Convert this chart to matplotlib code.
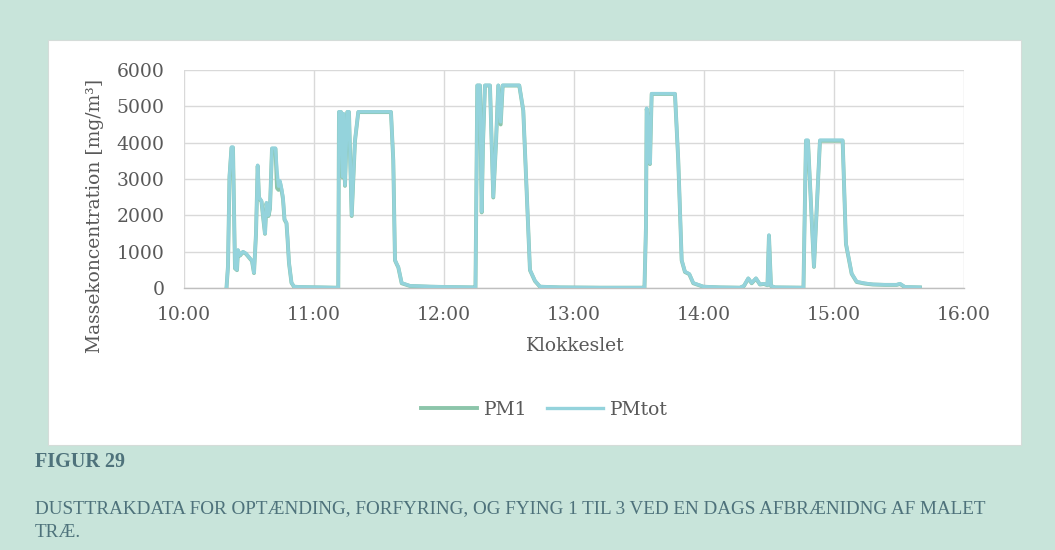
import matplotlib
matplotlib.use("Agg")
import matplotlib.pyplot as plt
from matplotlib.patches import Rectangle

# Time of day in decimal hours
klokkeslet = [
    10.3269, 10.3385, 10.35, 10.3654, 10.3769, 10.3923, 10.4077, 10.4154, 10.4308, 10.4538,
    10.4769, 10.5, 10.5231, 10.5385, 10.5538, 10.5669, 10.5769, 10.5962, 10.6077, 10.6231,
    10.6346, 10.65, 10.6615, 10.6769, 10.7038, 10.7154, 10.7269, 10.7385, 10.75, 10.7615,
    10.7731, 10.7885, 10.7962, 10.8077, 10.8269, 10.8462, 10.8923, 11.0462, 11.1615,
    11.1869, 11.1923, 11.2077, 11.2208, 11.2269, 11.2385, 11.2562, 11.2692, 11.29, 11.3154,
    11.3408, 11.5923, 11.61, 11.6231, 11.6385, 11.6485, 11.6746, 11.7385, 11.8923, 12.0462,
    12.2254, 12.2423, 12.25, 12.2562, 12.2769, 12.29, 12.30, 12.3154, 12.3538, 12.3792,
    12.40, 12.4177, 12.4362, 12.4515, 12.5792, 12.61, 12.6615, 12.70, 12.7385, 12.8923,
    13.20, 13.5385, 13.5423, 13.5538, 13.5592, 13.5692, 13.5846, 13.5977, 13.7769, 13.8023,
    13.8285, 13.8538, 13.8869, 13.9177, 13.9946, 14.1231, 14.2769, 14.3077, 14.3408, 14.3669,
    14.40, 14.4308, 14.4615, 14.4885, 14.50, 14.5154, 14.5462, 14.7654, 14.7846, 14.80,
    14.8462, 14.8923, 15.0669, 15.0923, 15.1362, 15.1746, 15.2385, 15.30, 15.3923, 15.4823,
    15.5077, 15.5462, 15.6615,
]

# Mass concentration [mg/m3]
pm_tot = [
    0, 600, 3100, 3880, 3880, 550, 500, 1050, 900, 1000,
    950, 850, 750, 420, 1500, 3380, 2500, 2400, 2000, 1500,
    2350, 2000, 2200, 3850, 3850, 3250, 2800, 2950, 2750, 2500,
    1900, 1800, 1400, 700, 150, 40, 30, 20, 10,
    10, 4850, 4850, 3060, 4800, 2830, 4850, 4850, 2000, 4070,
    4850, 4850, 3520, 770, 650, 580, 140, 60, 40, 30,
    20, 20, 3000, 5580, 5580, 2100, 4000, 5580, 5580, 2510,
    4000, 5580, 4570, 5580, 5580, 4900, 500, 200, 40, 20,
    10, 10, 10, 1690, 4950, 4700, 3430, 5350, 5350, 3520,
    770, 450, 390, 140, 40, 20, 10, 60, 270, 140,
    270, 100, 120, 80, 1460, 60, 20, 10, 4070, 4070,
    590, 4070, 4070, 1230, 400, 175, 130, 100, 90, 90,
    120, 30, 20,
]

pm1 = [
    0, 600, 3050, 3860, 3860, 540, 490, 1030, 890, 990,
    940, 840, 740, 410, 1480, 3360, 2480, 2380, 1980, 1490,
    2330, 1980, 2180, 3830, 3830, 2750, 2700, 2900, 2700, 2450,
    1880, 1780, 1380, 690, 140, 35, 25, 15, 8,
    8, 4840, 4840, 3040, 4780, 2810, 4840, 4840, 1980, 4050,
    4840, 4840, 3500, 760, 640, 570, 130, 55, 35, 25,
    15, 15, 2980, 5570, 5570, 2080, 3980, 5570, 5570, 2490,
    3980, 5570, 4500, 5570, 5570, 4880, 490, 190, 35, 15,
    8, 8, 8, 1670, 4930, 4680, 3410, 5340, 5340, 3500,
    760, 440, 380, 130, 35, 15, 8, 55, 260, 130,
    260, 95, 110, 75, 1440, 55, 15, 8, 4050, 4050,
    580, 4050, 4050, 1210, 390, 165, 120, 95, 85, 85,
    110, 25, 15,
]

x_ticks = [10, 11, 12, 13, 14, 15, 16]
x_tick_labels = ["10:00", "11:00", "12:00", "13:00", "14:00", "15:00", "16:00"]
y_ticks = [0, 1000, 2000, 3000, 4000, 5000, 6000]
series_names = ["PM1", "PMtot"]

BG = "#c8e4da"
TXT = "#595959"
CAP = "#4e727b"
FONT = "DejaVu Serif"

fig = plt.figure(figsize=(10.55, 5.5), dpi=100, facecolor=BG)

# white chart panel
fig.patches.append(Rectangle((0.0455, 0.1909), 0.9223, 0.7364, transform=fig.transFigure,
                             facecolor="white", edgecolor="#d5dcd9", linewidth=0.8, zorder=-5))

ax = fig.add_axes([0.1744, 0.4764, 0.7393, 0.3964])
ax.set_facecolor("white")

l1, = ax.plot(klokkeslet, pm1, color="#8cc5aa", linewidth=2.8, solid_joinstyle="round", zorder=3)
l2, = ax.plot(klokkeslet, pm_tot, color="#94d3dc", linewidth=2.4, solid_joinstyle="round", zorder=4)

ax.set_xlim(10, 16)
ax.set_ylim(0, 6000)
ax.set_xticks(x_ticks)
ax.set_xticklabels(x_tick_labels)
ax.set_yticks(y_ticks)
ax.set_yticklabels([str(v) for v in y_ticks])
ax.grid(True, color="#d9d9d9", linewidth=1.0, zorder=0)
ax.set_axisbelow(True)
for side in ["top", "right", "left"]:
    ax.spines[side].set_visible(False)
ax.spines["bottom"].set_color("#bfbfbf")
ax.spines["bottom"].set_linewidth(1.0)
ax.tick_params(length=0, labelsize=13.5, colors=TXT)
ax.tick_params(axis="y", pad=14)
ax.tick_params(axis="x", pad=13)
for lab in ax.get_xticklabels() + ax.get_yticklabels():
    lab.set_fontfamily(FONT)

fig.text(0.090, 0.607, "Massekoncentration [mg/m³]", rotation=90, ha="center", va="center",
         fontsize=13.5, color=TXT, family=FONT)
fig.text(0.545, 0.371, "Klokkeslet", ha="center", va="center",
         fontsize=13.5, color=TXT, family=FONT)

fig.legend([l1, l2], series_names, loc="center", bbox_to_anchor=(0.516, 0.2545), ncol=2,
           frameon=False, handlelength=3.0, columnspacing=1.0, handletextpad=0.4,
           prop={"family": FONT, "size": 13.5}, labelcolor=TXT)

fig.text(0.033, 0.160, "FIGUR 29", ha="left", va="center", fontsize=14.5, fontweight="bold",
         color=CAP, family="Liberation Serif")
fig.text(0.033, 0.0745,
         "DUSTTRAKDATA FOR OPTÆNDING, FORFYRING, OG FYING 1 TIL 3 VED EN DAGS AFBRÆNIDNG AF MALET",
         ha="left", va="center", fontsize=13.8, color=CAP, family="Liberation Serif")
fig.text(0.033, 0.0327, "TRÆ.", ha="left", va="center", fontsize=13.8, color=CAP,
         family="Liberation Serif")

fig.savefig("out.png", dpi=100, facecolor=BG)
